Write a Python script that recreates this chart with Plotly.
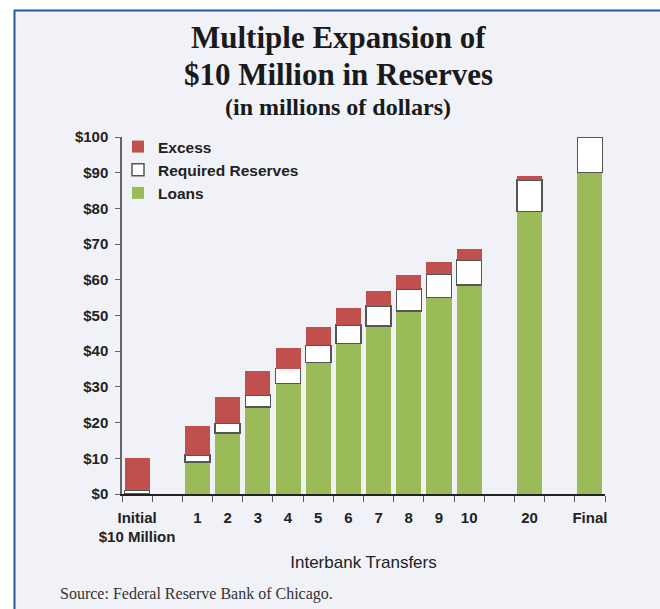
import plotly.graph_objects as go

categories = ["init", "gapA", "1", "2", "3", "4", "5", "6", "7", "8", "9", "10", "gapB", "20", "gapC", "Final"]
tick_labels = ["Initial<br>$10 Million", "", "1", "2", "3", "4", "5", "6", "7", "8", "9", "10", "", "20", "", "Final"]

loans = [0.0, None, 9.0, 17.1, 24.4, 31.0, 36.9, 42.2, 47.0, 51.3, 55.1, 58.6, None, 79.1, None, 90.0]
required = [1.0, None, 1.9, 2.7, 3.4, 4.1, 4.7, 5.2, 5.7, 6.1, 6.5, 6.9, None, 8.9, None, 10.0]
excess = [9.0, None, 8.1, 7.3, 6.6, 5.9, 5.3, 4.8, 4.3, 3.9, 3.5, 3.1, None, 1.1, None, 0.0]

W, H = 660, 609
L, R, T, B = 122, 55, 137, 115
PW, PH = W - L - R, H - T - B

def px(x):
    return (x - L) / PW

def py(y):
    return (H - B - y) / PH

fig = go.Figure()
fig.add_trace(go.Bar(x=categories, y=loans, name="Loans",
                     marker=dict(color="#9bbb59", line=dict(width=0))))
fig.add_trace(go.Bar(x=categories, y=required, name="Required Reserves",
                     marker=dict(color="#ffffff", line=dict(color="#555555", width=1.5))))
fig.add_trace(go.Bar(x=categories, y=excess, name="Excess",
                     marker=dict(color="#c0504d", line=dict(width=0))))

fig.update_layout(
    width=W, height=H,
    margin=dict(l=L, r=R, t=T, b=B),
    barmode="stack", bargap=0.17,
    paper_bgcolor="#ffffff", plot_bgcolor="rgba(0,0,0,0)",
    font=dict(family="Liberation Sans, Arial, sans-serif", color="#222222"),
    showlegend=True,
    legend=dict(x=px(118), y=py(130), xanchor="left", yanchor="top",
                traceorder="reversed", bgcolor="rgba(0,0,0,0)",
                font=dict(size=15.5, family="Liberation Sans, Arial, sans-serif", color="#222222",
                          weight="bold")),
    xaxis=dict(type="category", categoryorder="array", categoryarray=categories,
               tickvals=categories, ticktext=tick_labels, tickson="boundaries",
               tickangle=0, ticklabelstandoff=9,
               ticks="outside", ticklen=6, tickcolor="#555555",
               showline=True, linecolor="#222222", linewidth=1.5,
               showgrid=False, zeroline=False,
               tickfont=dict(size=15, weight="bold", color="#222222"),
               title=dict(text="Interbank Transfers", standoff=12,
                          font=dict(size=17, color="#222222"))),
    yaxis=dict(range=[0, 100], dtick=10, tickprefix="$",
               ticks="outside", ticklen=5, tickcolor="#666666",
               showline=True, linecolor="#666666", linewidth=1.5,
               showgrid=False, zeroline=False,
               ticklabelstandoff=4,
               tickfont=dict(size=15, weight="bold", color="#222222")),
)

fig.add_shape(type="rect", xref="paper", yref="paper",
              x0=px(14.5), x1=px(675), y0=py(625), y1=py(10.5),
              line=dict(color="#2b579a", width=2), fillcolor="#f1f2f7", layer="below")

serif = "Liberation Serif, Times New Roman, serif"
fig.add_annotation(text="<b>Multiple Expansion of</b>", xref="paper", yref="paper",
                   x=px(338), y=py(37), showarrow=False, xanchor="center", yanchor="middle",
                   font=dict(family=serif, size=31, color="#1a1a1a"))
fig.add_annotation(text="<b>$10 Million in Reserves</b>", xref="paper", yref="paper",
                   x=px(338), y=py(75), showarrow=False, xanchor="center", yanchor="middle",
                   font=dict(family=serif, size=31, color="#1a1a1a"))
fig.add_annotation(text="<b>(in millions of dollars)</b>", xref="paper", yref="paper",
                   x=px(338), y=py(107), showarrow=False, xanchor="center", yanchor="middle",
                   font=dict(family=serif, size=24, color="#1a1a1a"))
fig.add_annotation(text="Source: Federal Reserve Bank of Chicago.", xref="paper", yref="paper",
                   x=px(58), y=py(594), showarrow=False, xanchor="left", yanchor="middle",
                   font=dict(family=serif, size=16, color="#333333"))

fig.write_html("out.html")
